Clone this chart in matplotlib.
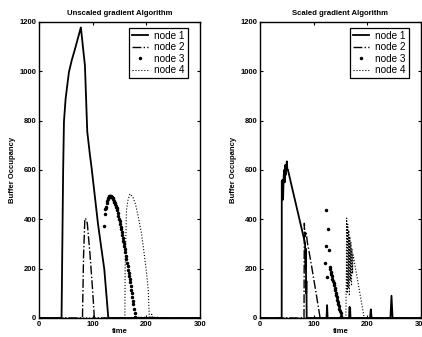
import matplotlib
matplotlib.use("Agg")
import matplotlib.pyplot as plt
import numpy as np

plt.rcParams['font.family'] = ['Liberation Sans', 'DejaVu Sans']

# ---- Unscaled gradient algorithm (left) ----
unscaled_n1_t = [0, 42, 45, 46.5, 49.6, 55.7, 61, 66.9, 72, 78, 85.6, 89.9, 94.8, 98,
                 110, 121.7, 125, 129, 130, 300]
unscaled_n1_v = [0, 0, 600, 796, 889, 996, 1045, 1089, 1130, 1178, 1023, 756, 663, 609,
                 380, 197, 110, 5, 0, 0]

unscaled_n2_t = [0, 81, 83, 85.5, 88, 90, 95, 100, 103, 104, 300]
unscaled_n2_v = [0, 0, 250, 404, 400, 384, 260, 110, 5, 0, 0]

unscaled_n3_t = [121, 123, 123.5, 124, 125, 126, 127, 128, 129, 130, 131, 132, 133, 134,
                 135, 136, 137, 138, 139, 140, 141, 142, 143, 144, 145, 146, 147, 148,
                 149, 150, 151, 152, 153, 154, 155, 156, 157, 158, 159, 160, 161, 162,
                 163, 164, 165, 166, 167, 168, 169, 170, 171, 172, 173, 174, 175, 176,
                 177, 178, 179, 181, 185, 190, 195, 200, 205, 210, 215, 220]
unscaled_n3_v = [373, 423, 440, 446, 451, 465, 475, 483, 488, 492, 494, 495, 495, 494,
                 492, 489, 485, 481, 476, 471, 466, 461, 456, 451, 446, 436, 425, 414,
                 403, 392, 381, 370, 359, 348, 337, 325, 314, 303, 292, 281, 266, 252,
                 238, 224, 210, 196, 183, 170, 157, 145, 130, 115, 100, 85, 70, 55,
                 38, 20, 5, 0, 0, 0, 0, 0, 0, 0, 0, 0]

unscaled_n4_t = [0, 160, 160.5, 163, 166, 169.5, 175, 180, 185, 191, 196, 200, 203.6, 205.5,
                 206, 208, 210, 212, 300]
unscaled_n4_v = [0, 0, 200, 438, 480, 503, 490, 460, 410, 343, 260, 190, 113, 5,
                 0, 0, 15, 0, 0]

# ---- Scaled gradient algorithm (right) ----
scaled_n1_t = [0, 40.4, 40.6, 42, 43, 44, 45, 46, 47, 48, 50, 51, 52, 60, 70, 80, 84,
               85, 85.5, 86, 86.5, 87, 124, 125, 126, 166, 167, 167.5, 168, 168.5, 169,
               205, 206.5, 208, 243, 245, 247, 300]
scaled_n1_v = [0, 0, 554, 560, 480, 570, 600, 550, 620, 580, 635, 600, 601, 526, 433, 340, 303,
               200, 280, 100, 150, 0, 0, 52, 0, 0, 45, 10, 40, 5, 0,
               0, 35, 0, 0, 90, 0, 0]

scaled_n2_t = [0, 82, 82.6, 84, 86, 88, 95, 100, 105, 112, 113, 300]
scaled_n2_v = [0, 0, 384, 330, 350, 310, 225, 160, 95, 0, 0, 0]

scaled_n3_t = [122, 123, 123.5, 125, 126, 128, 130, 131, 132, 133, 134, 135, 136, 137, 138,
               139, 140, 141, 142, 143, 144, 145, 146, 147, 148, 149, 150, 151, 152]
scaled_n3_v = [223, 436, 290, 166, 362, 274, 207, 198, 188, 179, 169, 160, 150, 141, 132,
               122, 113, 103, 94, 85, 75, 66, 56, 47, 38, 28, 19, 9, 0]

scaled_n4_t = [0, 160, 161, 161.5, 162.5, 163.5, 164.5, 165.5, 166.5, 167.5, 168.5, 169.5,
               170.5, 171.5, 172.5, 173.5, 180, 185, 190, 193, 194, 300]
scaled_n4_v = [0, 0, 200, 405, 100, 380, 120, 355, 90, 330, 150, 306,
               130, 281, 180, 256, 176, 114, 52, 15, 0, 0]

titles = ["Unscaled gradient Algorithm", "Scaled gradient Algorithm"]
node_labels = ["node 1", "node 2", "node 3", "node 4"]


def draw_panel(ax, n1, n2, n3, n4, title):
    h1, = ax.plot(n1[0], n1[1], color="black", linestyle="-", linewidth=1.3)
    h2, = ax.plot(n2[0], n2[1], color="black", linestyle="-.", linewidth=1.0)
    h3, = ax.plot(n3[0], n3[1], color="black", linestyle="none", marker=".", markersize=3.0)
    h4, = ax.plot(n4[0], n4[1], color="black", linestyle=":", linewidth=0.8)
    ax.set_xlim(0, 300)
    ax.set_ylim(0, 1200)
    ax.set_xticks([0, 100, 200, 300])
    ax.set_yticks([0, 200, 400, 600, 800, 1000, 1200])
    ax.tick_params(direction="in", top=True, right=True, length=2.5, width=0.8,
                   labelsize=5.5, pad=2)
    for lbl in ax.get_xticklabels() + ax.get_yticklabels():
        lbl.set_fontweight("bold")
    for s in ax.spines.values():
        s.set_linewidth(1.0)
    ax.set_title(title, fontsize=5.6, pad=5, fontweight="bold")
    ax.set_ylabel("Buffer Occupancy", fontsize=5.5, labelpad=2, fontweight="bold")
    ax.set_xlabel("time", fontsize=5.5, labelpad=0, fontweight="bold")
    leg = ax.legend([h1, h2, h3, h4], node_labels, loc="upper right",
                    bbox_to_anchor=(0.925, 0.98), fontsize=7.2, frameon=True,
                    fancybox=False, edgecolor="black", framealpha=1,
                    handlelength=1.6, handletextpad=0.6, labelspacing=0.15,
                    borderpad=0.3, borderaxespad=0)
    leg.get_frame().set_linewidth(0.9)


def main():
    fig = plt.figure(figsize=(4.22, 3.37), dpi=100)
    ax1 = fig.add_axes([39 / 422, 19 / 337, 161 / 422, 296 / 337])
    ax2 = fig.add_axes([260 / 422, 19 / 337, 161 / 422, 296 / 337])
    draw_panel(ax1, (unscaled_n1_t, unscaled_n1_v), (unscaled_n2_t, unscaled_n2_v),
               (unscaled_n3_t, unscaled_n3_v), (unscaled_n4_t, unscaled_n4_v), titles[0])
    draw_panel(ax2, (scaled_n1_t, scaled_n1_v), (scaled_n2_t, scaled_n2_v),
               (scaled_n3_t, scaled_n3_v), (scaled_n4_t, scaled_n4_v), titles[1])
    fig.savefig("out.png", dpi=100)


if __name__ == "__main__":
    main()
